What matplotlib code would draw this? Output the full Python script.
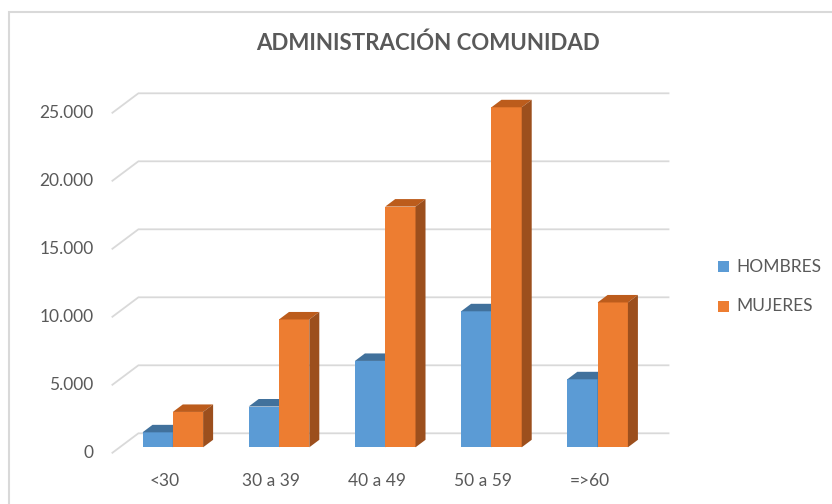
import matplotlib.pyplot as plt
from matplotlib.patches import Polygon, Rectangle

categories = ["<30", "30 a 39", "40 a 49", "50 a 59", "=>60"]
hombres = [1100, 3000, 6350, 10000, 5000]
mujeres = [2600, 9400, 17700, 25000, 10650]
y_ticks = [0, 5000, 10000, 15000, 20000, 25000]
y_labels = ["0", "5.000", "10.000", "15.000", "20.000", "25.000"]

BLUE = ("#5b9bd5", "#41719c", "#3b6791")
ORANGE = ("#ed7d31", "#bc5c1c", "#9c4f1d")
GRID = "#d9d9d9"
TXT = "#595959"
FONT = "Lato"

# layout in pixels (figure is 832x504 at dpi 100)
W, H = 832, 504
px_cat = 106.2        # pixels per category on the front plane
cat0_px = 164.8       # x pixel of first category centre
zero_px = 453.3       # y pixel of value 0 on the front edge
px_unit = 68 / 5000   # pixels per value unit

# depth of the 3d box, in data units
depth_x = 26.7 / px_cat
depth_y = 20 / px_unit
bar_w = 30.3 / px_cat
bar_dx = 10 / px_cat
bar_dy = 7.5 / px_unit
front = 0.3  # bars sit this far into the box

fig = plt.figure(figsize=(W / 100, H / 100), dpi=100)
l, r, t, b = 20, 700, 80, 500
ax = fig.add_axes([l / W, 1 - b / H, (r - l) / W, (b - t) / H])
ax.set_xlim((l - cat0_px) / px_cat, (r - cat0_px) / px_cat)
ax.set_ylim((zero_px - b) / px_unit, (zero_px - t) / px_unit)
ax.axis("off")

# chart border
fig.patches.append(Rectangle((9 / W, -0.1), 2, 1 - 12 / H + 0.1,
                             transform=fig.transFigure, fill=False,
                             edgecolor=GRID, lw=1.5))

x_lo, x_hi = -0.5, len(categories) - 0.5
for v, lab in zip(y_ticks, y_labels):
    ax.plot([x_lo, x_lo + depth_x, x_hi + depth_x], [v, v + depth_y, v + depth_y],
            color=GRID, lw=1.3, zorder=1, solid_capstyle="butt")
    ax.text(x_lo - 18 / px_cat, v, lab, ha="right", va="center",
            fontsize=12.5, color=TXT, family=FONT)

sx = front * depth_x
sy = front * depth_y


def bar3d(x0, h, cols, z):
    ax.bar(x0, h, width=bar_w, bottom=sy, align="edge", color=cols[0],
           zorder=z, lw=0)
    top = [(x0, sy + h), (x0 + bar_w, sy + h),
           (x0 + bar_w + bar_dx, sy + h + bar_dy), (x0 + bar_dx, sy + h + bar_dy)]
    side = [(x0 + bar_w, sy), (x0 + bar_w + bar_dx, sy + bar_dy),
            (x0 + bar_w + bar_dx, sy + h + bar_dy), (x0 + bar_w, sy + h)]
    ax.add_patch(Polygon(top, closed=True, color=cols[1], lw=0, zorder=z))
    ax.add_patch(Polygon(side, closed=True, color=cols[2], lw=0, zorder=z))


for i in range(len(categories)):
    bar3d(i + sx - bar_w, hombres[i], BLUE, 2 + 2 * i)
    bar3d(i + sx, mujeres[i], ORANGE, 3 + 2 * i)
    ax.text(i, (zero_px - 481) / px_unit, categories[i], ha="center",
            va="center", fontsize=12.5, color=TXT, family=FONT)

fig.text(428 / W, 1 - 43 / H, "ADMINISTRACIÓN COMUNIDAD", ha="center",
         va="center", fontsize=16, color=TXT, family=FONT, weight="bold")

# legend
for lab, col, yc in [("HOMBRES", BLUE[0], 266.7), ("MUJERES", ORANGE[0], 306)]:
    fig.patches.append(Rectangle((718 / W, 1 - (yc + 5.5) / H), 11 / W, 11 / H,
                                 transform=fig.transFigure, color=col, lw=0))
    fig.text(736 / W, 1 - yc / H, lab, ha="left", va="center",
             fontsize=12.5, color=TXT, family=FONT)

fig.savefig("out.png", dpi=100, facecolor="white")
